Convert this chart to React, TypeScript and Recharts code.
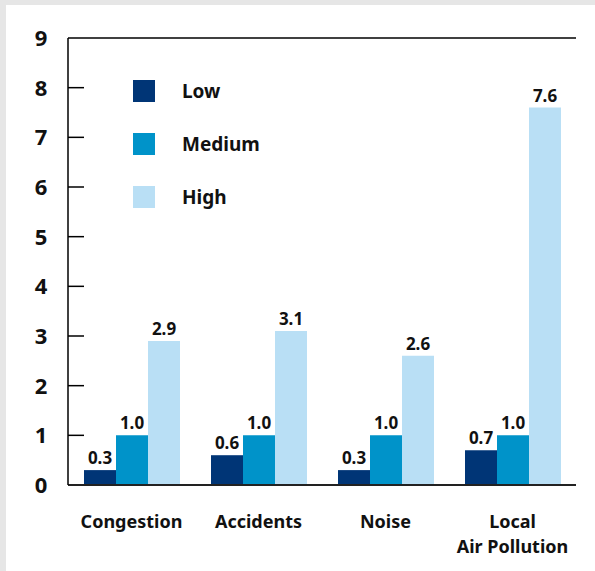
import { BarChart, Bar, XAxis, YAxis, Legend, LabelList, ReferenceLine } from "recharts";

const categories = ["Congestion", "Accidents", "Noise", "Local\nAir Pollution"];
const lowValues = [0.3, 0.6, 0.3, 0.7];
const mediumValues = [1.0, 1.0, 1.0, 1.0];
const highValues = [2.9, 3.1, 2.6, 7.6];
const yTicks = [0, 1, 2, 3, 4, 5, 6, 7, 8, 9];

const series = [
  { key: "low", name: "Low", color: "#003576" },
  { key: "medium", name: "Medium", color: "#0093c9" },
  { key: "high", name: "High", color: "#b9dff5" },
];

const data = categories.map((name, i) => ({
  name,
  low: lowValues[i],
  medium: mediumValues[i],
  high: highValues[i],
}));

const FONT = "'Noto Sans', sans-serif";

function YTick(props: any) {
  const { x, y, payload } = props;
  return (
    <g>
      {payload.value > 0 && payload.value < 9 && (
        <line x1={x} x2={x + 16} y1={y} y2={y} stroke="#000" strokeWidth={1.5} />
      )}
      <text
        x={x - 27}
        y={y}
        dy={8}
        textAnchor="middle"
        fontFamily={FONT}
        fontWeight={700}
        fontSize={22}
        fill="#111"
      >
        {payload.value}
      </text>
    </g>
  );
}

function XTick(props: any) {
  const { x, y, payload } = props;
  const lines = String(payload.value).split("\n");
  return (
    <text
      x={x}
      y={y}
      textAnchor="middle"
      fontFamily={FONT}
      fontWeight={700}
      fontSize={18}
      fill="#111"
    >
      {lines.map((l, i) => (
        <tspan key={i} x={x} dy={i === 0 ? 35 : 25}>
          {l}
        </tspan>
      ))}
    </text>
  );
}

function LegendContent() {
  return (
    <div style={{ fontFamily: FONT }}>
      {series.map((s) => (
        <div
          key={s.key}
          style={{ display: "flex", alignItems: "center", height: 22, marginBottom: 31 }}
        >
          <div style={{ width: 22, height: 22, background: s.color }} />
          <span
            style={{
              marginLeft: 27,
              fontWeight: 700,
              fontSize: 19,
              color: "#111",
            }}
          >
            {s.name}
          </span>
        </div>
      ))}
    </div>
  );
}

export default function App() {
  return (
    <div
      style={{
        position: "absolute",
        left: 0,
        top: 0,
        width: 595,
        height: 571,
        background: "#e6e6e6",
      }}
    >
      <div
        style={{
          position: "absolute",
          left: 6,
          top: 5,
          width: 589,
          height: 566,
          background: "#fff",
        }}
      >
        <BarChart
          width={589}
          height={566}
          data={data}
          margin={{ top: 33, right: 19, left: 0, bottom: 0 }}
          barGap={0}
          barCategoryGap={15.5}
        >
          <XAxis
            dataKey="name"
            tickLine={false}
            axisLine={{ stroke: "#222", strokeWidth: 2 }}
            tick={<XTick />}
            interval={0}
            height={86}
          />
          <YAxis
            width={62}
            domain={[0, 9]}
            ticks={yTicks}
            interval={0}
            tickSize={0}
            tickMargin={0}
            tickLine={false}
            axisLine={{ stroke: "#000", strokeWidth: 1.5 }}
            tick={<YTick />}
          />
          <YAxis
            yAxisId="right"
            orientation="right"
            width={0}
            domain={[0, 9]}
            tick={false}
            tickLine={false}
            axisLine={{ stroke: "#000", strokeWidth: 1.5 }}
          />
          <ReferenceLine y={9} stroke="#000" strokeWidth={1.5} />
          <Legend
            content={<LegendContent />}
            layout="vertical"
            verticalAlign="middle"
            align="center"
            wrapperStyle={{ left: 127, top: 75, width: 200 }}
          />
          {series.map((s) => (
            <Bar
              key={s.key}
              dataKey={s.key}
              name={s.name}
              fill={s.color}
              barSize={32}
              isAnimationActive={false}
            >
              <LabelList
                dataKey={s.key}
                position="top"
                offset={6}
                formatter={(v: any) => Number(v).toFixed(1)}
                style={{
                  fontFamily: FONT,
                  fontWeight: 700,
                  fontSize: 17,
                  fill: "#111",
                }}
              />
            </Bar>
          ))}
        </BarChart>
      </div>
    </div>
  );
}
